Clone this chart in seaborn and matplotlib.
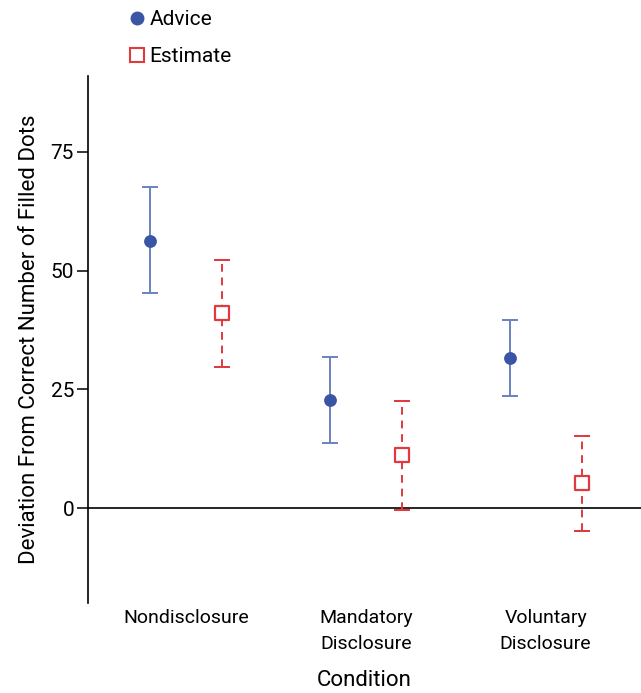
import numpy as np
import pandas as pd
import matplotlib
matplotlib.use("Agg")
import matplotlib.pyplot as plt
import seaborn as sns
from matplotlib.lines import Line2D

# values
conditions = ["Nondisclosure", "Mandatory\nDisclosure", "Voluntary\nDisclosure"]
advice_mean = [56.3, 22.7, 31.7]
advice_low = [45.2, 13.7, 23.5]
advice_high = [67.6, 31.9, 39.7]
estimate_mean = [41.0, 11.1, 5.3]
estimate_low = [29.8, -0.4, -4.8]
estimate_high = [52.3, 22.5, 15.1]

sns.set_style("white")
plt.rcParams["font.family"] = ["Roboto", "DejaVu Sans"]
plt.rcParams["text.color"] = "black"
plt.rcParams["axes.labelcolor"] = "black"
plt.rcParams["xtick.color"] = "black"
plt.rcParams["ytick.color"] = "black"

blue = "#3b55a5"
blue_err = "#6b82c0"
red = "#e0393e"

df = pd.DataFrame({
    "pos": np.arange(len(conditions)),
    "advice": advice_mean,
    "estimate": estimate_mean,
})
off = 0.2

fig = plt.figure(figsize=(6.41, 6.93), dpi=100)
ax = fig.add_axes([0.1373, 0.1299, 0.8627, 0.7604])

ax.axhline(0, color="black", lw=1.2, zorder=1)

# error bars
a_err = [np.array(advice_mean) - np.array(advice_low), np.array(advice_high) - np.array(advice_mean)]
e_err = [np.array(estimate_mean) - np.array(estimate_low), np.array(estimate_high) - np.array(estimate_mean)]
ax.errorbar(df["pos"] - off, df["advice"], yerr=a_err, fmt="none", ecolor=blue_err,
            elinewidth=1.4, capsize=6, capthick=1.4, zorder=2)
eb = ax.errorbar(df["pos"] + off, df["estimate"], yerr=e_err, fmt="none", ecolor=red,
                 elinewidth=1.4, capsize=6, capthick=1.4, zorder=2)
eb[-1][0].set_linestyle((0, (4, 3)))
for cap in eb[1]:
    cap.set_linestyle("none")
# dashed caps
for x, lo, hi in zip(df["pos"] + off, estimate_low, estimate_high):
    for yv in (lo, hi):
        ax.plot([x - 0.045, x + 0.045], [yv, yv], color=red, lw=1.4, ls=(0, (3, 2)), zorder=2)

sns.scatterplot(x=df["pos"] - off, y=df["advice"], ax=ax, color=blue, s=85,
                edgecolor=blue, linewidth=0, marker="o", zorder=3, legend=False)
sns.scatterplot(x=df["pos"] + off, y=df["estimate"], ax=ax, facecolor="white", s=110,
                edgecolor=red, linewidth=1.6, marker="s", zorder=3, legend=False)

ax.set_xlim(-0.544, 2.53)
ax.set_ylim(-20, 91)
ax.set_yticks([0, 25, 50, 75])
ax.set_xticks(df["pos"])
ax.set_xticklabels(conditions, fontsize=14, linespacing=1.6)
ax.tick_params(axis="y", labelsize=15, length=8, width=1.1, color="black", pad=2, left=True)
ax.tick_params(axis="x", length=0, pad=4)
for s in ["top", "right", "bottom"]:
    ax.spines[s].set_visible(False)
ax.spines["left"].set_color("black")
ax.spines["left"].set_linewidth(1.2)

ax.set_xlabel("Condition", fontsize=16, labelpad=12)
ax.set_ylabel("Deviation From Correct Number of Filled Dots", fontsize=16, labelpad=8)

handles = [
    Line2D([], [], marker="o", color=blue, ls="none", markersize=9),
    Line2D([], [], marker="s", markerfacecolor="white", markeredgecolor=red,
           markeredgewidth=1.5, ls="none", markersize=10),
]
fig.legend(handles, ["Advice", "Estimate"], loc="upper left", bbox_to_anchor=(0.175, 1.012),
           frameon=False, fontsize=15, handlelength=0.6, handletextpad=0.3,
           labelspacing=0.85)

fig.savefig("out.png", dpi=100)
